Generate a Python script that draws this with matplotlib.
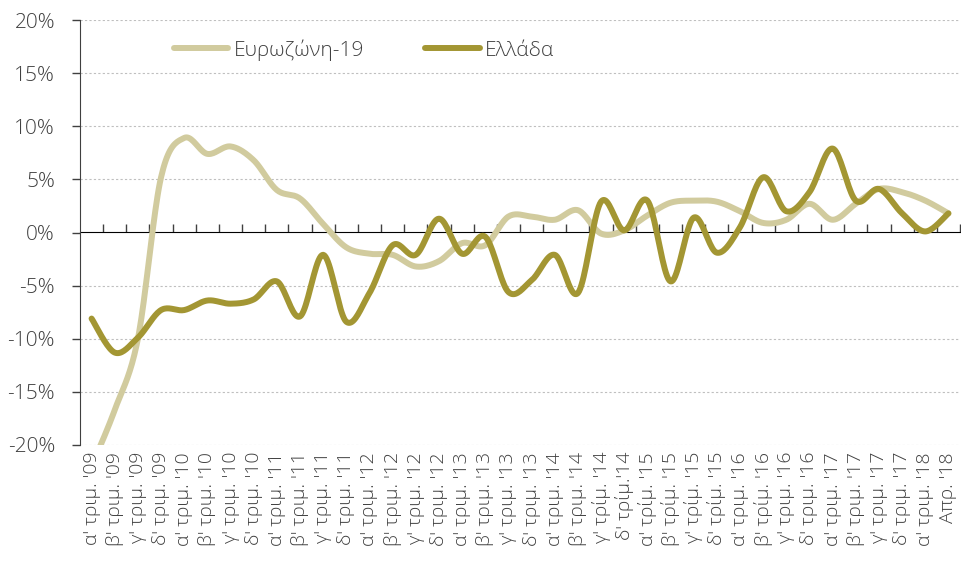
import numpy as np
import matplotlib
matplotlib.use("Agg")
import matplotlib.pyplot as plt
from matplotlib.ticker import FuncFormatter

plt.rcParams['font.family'] = ['Open Sans', 'DejaVu Sans']
plt.rcParams['font.weight'] = 'light'

# ετικέτες τριμήνων
quarter_labels = [
    "α' τριμ. '09", "β' τριμ. '09", "γ' τριμ. '09", "δ' τριμ. '09",
    "α' τριμ. '10", "β' τριμ. '10", "γ' τριμ. '10", "δ' τριμ. '10",
    "α' τριμ. '11", "β' τριμ. '11", "γ' τριμ. '11", "δ' τριμ. '11",
    "α' τριμ. '12", "β' τριμ. '12", "γ' τριμ. '12", "δ' τριμ. '12",
    "α' τριμ. '13", "β' τριμ. '13", "γ' τριμ. '13", "δ' τριμ. '13",
    "α' τριμ. '14", "β' τριμ. '14", "γ' τρίμ. '14", "δ' τρίμ.'14",
    "α' τρίμ. '15", "β' τρίμ. '15", "γ' τρίμ. '15", "δ' τρίμ. '15",
    "α' τριμ. '16", "β' τρίμ. '16", "γ' τριμ. '16", "δ' τριμ. '16",
    "α' τριμ. '17", "β' τριμ. '17", "γ' τριμ. '17", "δ' τριμ. '17",
    "α' τριμ. '18", "Απρ. '18",
]

# Ευρωζώνη-19 (%)
eurozone = [-22.0, -16.7, -10.0, 5.2, 8.9, 7.4, 8.1, 6.8, 4.0, 3.2,
            0.8, -1.4, -2.0, -2.1, -3.2, -2.7, -1.0, -1.2, 1.5, 1.5,
            1.2, 2.1, -0.1, 0.2, 1.6, 2.8, 3.0, 2.9, 2.0, 0.9,
            1.2, 2.7, 1.2, 2.7, 4.1, 3.8, 3.0, 1.8]

# Ελλάδα (%)
greece = [-8.1, -11.3, -9.9, -7.3, -7.3, -6.4, -6.7, -6.3, -4.6, -7.9,
          -2.1, -8.4, -5.7, -1.2, -2.1, 1.3, -2.0, -0.4, -5.6, -4.5,
          -2.1, -5.7, 2.9, 0.2, 3.0, -4.6, 1.4, -1.9, 0.5, 5.2,
          2.0, 3.8, 7.9, 3.0, 4.1, 1.8, 0.1, 1.8]

light_col = '#D1CB9E'
dark_col = '#A39633'
text_col = '#404040'


def smooth(y, n=20):
    # Catmull-Rom καμπύλη όπως οι "ομαλές γραμμές" του Excel
    y = np.asarray(y, dtype=float)
    x = np.arange(len(y), dtype=float)
    px = np.concatenate([[x[0]], x, [x[-1]]])
    py = np.concatenate([[y[0]], y, [y[-1]]])
    xs, ys = [], []
    t = np.linspace(0, 1, n, endpoint=False)
    for i in range(1, len(px) - 2):
        p0x, p1x, p2x, p3x = px[i - 1], px[i], px[i + 1], px[i + 2]
        p0y, p1y, p2y, p3y = py[i - 1], py[i], py[i + 1], py[i + 2]
        c1x, c1y = p1x + (p2x - p0x) / 6, p1y + (p2y - p0y) / 6
        c2x, c2y = p2x - (p3x - p1x) / 6, p2y - (p3y - p1y) / 6
        b0 = (1 - t) ** 3
        b1 = 3 * (1 - t) ** 2 * t
        b2 = 3 * (1 - t) * t ** 2
        b3 = t ** 3
        xs.append(b0 * p1x + b1 * c1x + b2 * c2x + b3 * p2x)
        ys.append(b0 * p1y + b1 * c1y + b2 * c2y + b3 * p2y)
    xs.append([x[-1]])
    ys.append([y[-1]])
    return np.concatenate(xs), np.concatenate(ys)


fig = plt.figure(figsize=(9.61, 5.62), dpi=100)
ax = fig.add_axes([80 / 961, 1 - 445 / 562, 880 / 961, 425 / 562])

xe, ye = smooth(eurozone)
xg, yg = smooth(greece)
ax.plot(xe, ye, color=light_col, lw=4.3, solid_capstyle='round', label='Ευρωζώνη-19')
ax.plot(xg, yg, color=dark_col, lw=4.3, solid_capstyle='round', label='Ελλάδα')

n = len(quarter_labels)
ax.set_xlim(-0.5, n - 0.5)
ax.set_ylim(-20, 20)

# άξονας y
ax.set_yticks(np.arange(-20, 21, 5))
ax.yaxis.set_major_formatter(FuncFormatter(lambda v, p: f"{v:.0f}%"))
ax.tick_params(axis='y', direction='out', length=6, width=1, color=text_col,
               labelsize=15, labelcolor=text_col, pad=12)
for v in np.arange(-20, 21, 5):
    if v != 0:
        ax.axhline(v, color='#BFBFBF', lw=0.8, ls=(0, (2, 2)), zorder=0)

# άξονας x - ετικέτες κάτω
ax.set_xticks(np.arange(n))
ax.set_xticklabels(quarter_labels, rotation=90)
ax.tick_params(axis='x', length=0, labelsize=14, labelcolor=text_col, pad=5)

for s in ['top', 'right', 'bottom']:
    ax.spines[s].set_visible(False)
ax.spines['left'].set_color(text_col)

# γραμμή του μηδενός με υποδιαιρέσεις
sec = ax.secondary_xaxis(0.5)
sec.set_xticks(np.arange(n) + 0.5)
sec.set_xticklabels([])
sec.tick_params(axis='x', direction='out', length=6, width=1, color=text_col)
sec.spines['bottom'].set_color(text_col)

leg = ax.legend(loc='upper left', bbox_to_anchor=(0.107, 0.955), ncol=2, frameon=False,
                fontsize=15, handlelength=2.6, handletextpad=0.25, columnspacing=2.95,
                borderpad=0, borderaxespad=0, labelcolor=text_col)

fig.savefig('out.png', dpi=100)
